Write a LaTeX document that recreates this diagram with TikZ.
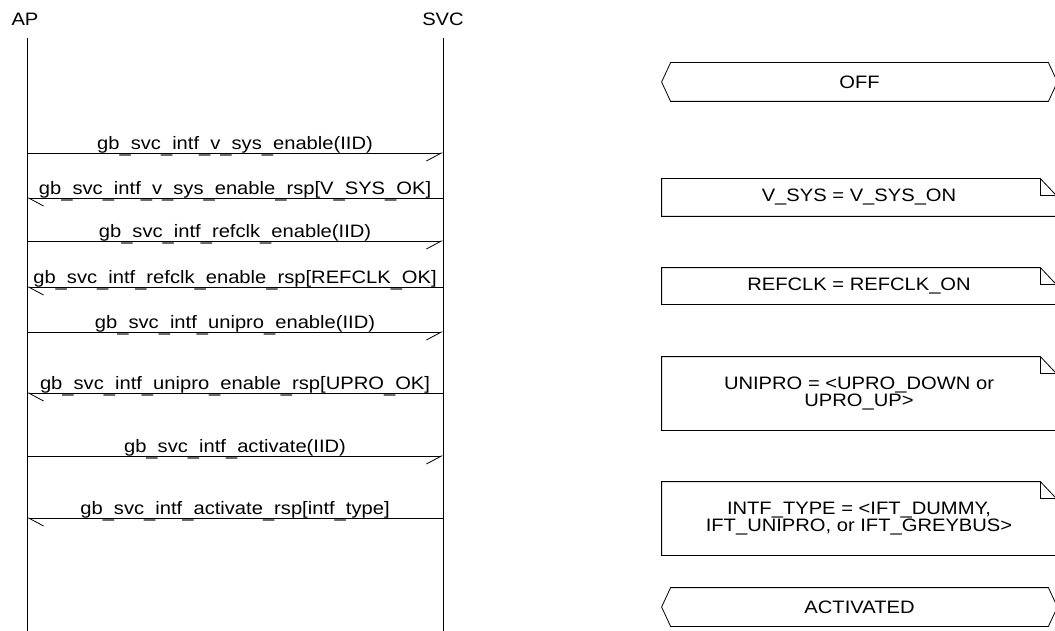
\documentclass[tikz,border=0pt]{standalone}
\usepackage{fontspec}
\setmainfont{Liberation Sans}[FakeStretch=1.12]
\usepackage{tikz}
\usetikzlibrary{arrows.meta,positioning,calc}
\newcommand{\mscfont}{\fontsize{18pt}{17pt}\selectfont}
% underscore that sits on the message line
\newcommand{\lowus}{\raisebox{-3.4pt}{\_}}

\begin{document}
\begin{tikzpicture}[
  x=1pt, y=-1pt,
  line width=0.8pt,
  entity/.style={anchor=base, inner sep=0pt, font=\mscfont},
  msglbl/.style={anchor=base, inner sep=0pt, font=\mscfont},
  req/.style={-{Straight Barb[length=15pt,width=16pt,right]}},
  rsp/.style={-{Straight Barb[length=15pt,width=16pt,left]}},
  statebox/.style={minimum width=395pt, minimum height=38pt, inner sep=0pt,
                   font=\mscfont, align=center},
  notebox/.style={minimum width=394pt, inner sep=0pt,
                  font=\mscfont, align=center}
]
  \useasboundingbox (0,0) rectangle (1055,631);

  % entities and lifelines
  \node[entity] (ap)  at (25,26)  {AP};
  \node[entity] (svc) at (443,26) {SVC};
  \coordinate (apEnd)  at (27,631);
  \coordinate (svcEnd) at (443,631);
  \draw (27,38) -- (apEnd);
  \draw (443,38) -- (svcEnd);

  % messages
  \foreach \n/\y/\dir/\txt in {
      1/153/req/{gb\lowus svc\lowus intf\lowus v\lowus sys\lowus enable(IID)},
      2/198/rsp/{gb\lowus svc\lowus intf\lowus v\lowus sys\lowus enable\lowus rsp[V\lowus SYS\lowus OK]},
      3/241/req/{gb\lowus svc\lowus intf\lowus refclk\lowus enable(IID)},
      4/287/rsp/{gb\lowus svc\lowus intf\lowus refclk\lowus enable\lowus rsp[REFCLK\lowus OK]},
      5/332/req/{gb\lowus svc\lowus intf\lowus unipro\lowus enable(IID)},
      6/393/rsp/{gb\lowus svc\lowus intf\lowus unipro\lowus enable\lowus rsp[UPRO\lowus OK]},
      7/456/req/{gb\lowus svc\lowus intf\lowus activate(IID)},
      8/518/rsp/{gb\lowus svc\lowus intf\lowus activate\lowus rsp[intf\lowus type]}} {
    \coordinate (a\n) at (27,\y);
    \coordinate (s\n) at (443,\y);
    \node[msglbl] (m\n) at (235,\y-3.5) {\txt};
    \ifnum\pdfstrcmp{\dir}{req}=0
      \draw[req] (a\n) -- (s\n);
    \else
      \draw[rsp] (s\n) -- (a\n);
    \fi
  }

  % states
  \node[statebox] (off)  at (859.5,82)  {OFF};
  \node[statebox] (actv) at (859.5,607) {ACTIVATED};
  \foreach \s in {off,actv}
    \draw (\s.west) -- ([xshift=9pt]\s.north west) -- ([xshift=-9pt]\s.north east)
      -- (\s.east) -- ([xshift=-9pt]\s.south east) -- ([xshift=9pt]\s.south west) -- cycle;

  % notes
  \node[notebox, minimum height=37pt] (vsys)   at (859,197.5) {V\_SYS = V\_SYS\_ON};
  \node[notebox, minimum height=36pt] (refclk) at (859,286)   {REFCLK = REFCLK\_ON};
  \node[notebox, minimum height=73pt] (unipro) at (859,393.5) {UNIPRO = <UPRO\_DOWN or\\UPRO\_UP>};
  \node[notebox, minimum height=73pt] (intf)   at (859,518.5) {INTF\_TYPE = <IFT\_DUMMY,\\IFT\_UNIPRO, or IFT\_GREYBUS>};
  \foreach \s in {vsys,refclk,unipro,intf} {
    \draw (\s.north west) -- ([xshift=-16pt]\s.north east) -- ([yshift=-17pt]\s.north east)
      -- (\s.south east) -- (\s.south west) -- cycle;
    \draw ([xshift=-16pt]\s.north east) -- ++(0,17) -- ([yshift=-17pt]\s.north east);
  }
\end{tikzpicture}
\end{document}
